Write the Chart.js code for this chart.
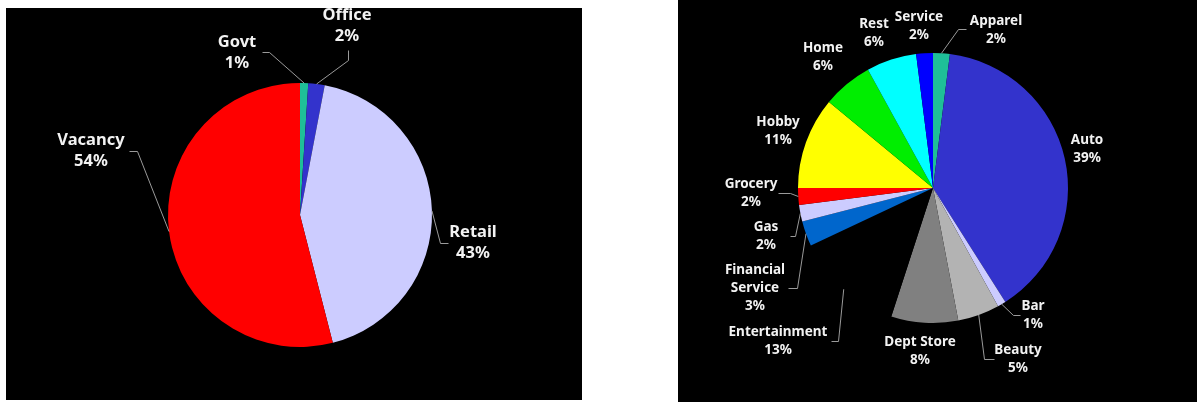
<!DOCTYPE html>
<html>
<head>
<meta charset="utf-8">
<script src="https://cdn.jsdelivr.net/npm/chart.js@4.4.1/dist/chart.umd.min.js"></script>
<style>
  body { margin: 0; background: #fff; width: 1197px; height: 402px; position: relative; overflow: hidden; }
  canvas { position: absolute; background: #000; }
  #leftPie { left: 6px; top: 8px; }
  #rightPie { left: 678px; top: 0px; }
</style>
</head>
<body>
<canvas id="leftPie" width="576" height="392"></canvas>
<canvas id="rightPie" width="519" height="402"></canvas>
<script>
// left chart data
var landUse = ['Govt', 'Office', 'Retail', 'Vacancy'];
var landShare = [1, 2, 43, 54];
var landColors = ['#1fbf98', '#3333cc', '#ccccff', '#ff0000'];

// right chart data
var retailTypes = ['Apparel', 'Auto', 'Bar', 'Beauty', 'Dept Store', 'Entertainment',
    'Financial\nService', 'Gas', 'Grocery', 'Hobby', 'Home', 'Rest', 'Service'];
var retailShare = [2, 39, 1, 5, 8, 13, 3, 2, 2, 11, 6, 6, 2];
var retailColors = ['#1fbf98', '#3333cc', '#ccccff', '#b3b3b3', '#808080', '#000000',
    '#0066cc', '#ccccff', '#ff0000', '#ffff00', '#00ee00', '#00ffff', '#0000ff'];

// label placement (canvas coords): centre x, first line y
var leftLabelPos = [[231, 34], [341, 7], [467, 224], [85, 132]];
// leader: start x,y then elbow x,y (end goes to the slice edge)
var leftLeaders = [[256, 44, 263, 44], [342, 42, 342, 52], [442, 235, 434, 235], [123, 143, 131, 143]];

var rightLabelPos = [[318, 21], [409, 140], [355, 306], [340, 350], [242, 342], [100, 332],
    [77, 270], [88, 227], [73, 184], [100, 122], [145, 48], [196, 24], [241, 17]];
var rightLeaders = [[288, 29, 280, 29], null, [342, 315, 335, 315], [316, 359, 306, 359], null,
    [153, 341, 160, 341], [110, 288, 119, 288], [112, 236, 117, 236], [100, 193, 112, 193],
    null, null, null, null];

function labelPlugin(positions, leaders, fontSize, lineH) {
    return {
        id: 'sliceLabels',
        afterDraw: function(chart) {
            var ctx = chart.ctx;
            var arcs = chart.getDatasetMeta(0).data;
            var values = chart.data.datasets[0].data;
            ctx.save();
            ctx.strokeStyle = '#9a9a9a';
            ctx.lineWidth = 1;
            arcs.forEach(function(arc, i) {
                var ld = leaders[i];
                if (!ld) return;
                var mid = (arc.startAngle + arc.endAngle) / 2;
                var ex = arc.x + Math.cos(mid) * arc.outerRadius;
                var ey = arc.y + Math.sin(mid) * arc.outerRadius;
                ctx.beginPath();
                ctx.moveTo(ld[0] + 0.5, ld[1] + 0.5);
                ctx.lineTo(ld[2] + 0.5, ld[3] + 0.5);
                ctx.lineTo(ex, ey);
                ctx.stroke();
            });
            ctx.fillStyle = '#f2f2f2';
            ctx.font = 'bold ' + fontSize + 'px "Noto Sans"';
            ctx.textAlign = 'center';
            ctx.textBaseline = 'middle';
            chart.data.labels.forEach(function(name, i) {
                var lines = name.split('\n');
                lines.push(values[i] + '%');
                var p = positions[i];
                lines.forEach(function(t, k) {
                    ctx.fillText(t, p[0], p[1] + k * lineH);
                });
            });
            ctx.restore();
        }
    };
}

function makePie(id, labels, data, colors, padding, plugin) {
    return new Chart(document.getElementById(id).getContext('2d'), {
        type: 'pie',
        data: {
            labels: labels,
            datasets: [{
                data: data,
                backgroundColor: colors,
                borderWidth: 0
            }]
        },
        options: {
            responsive: false,
            animation: false,
            devicePixelRatio: 1,
            layout: { padding: padding },
            plugins: {
                legend: { display: false },
                tooltip: { enabled: false }
            }
        },
        plugins: [plugin]
    });
}

makePie('leftPie', landUse, landShare, landColors,
    { left: 162, right: 150, top: 75, bottom: 53 },
    labelPlugin(leftLabelPos, leftLeaders, 16.5, 21));

makePie('rightPie', retailTypes, retailShare, retailColors,
    { left: 120, right: 129, top: 53, bottom: 79 },
    labelPlugin(rightLabelPos, rightLeaders, 13.5, 18));
</script>
</body>
</html>
